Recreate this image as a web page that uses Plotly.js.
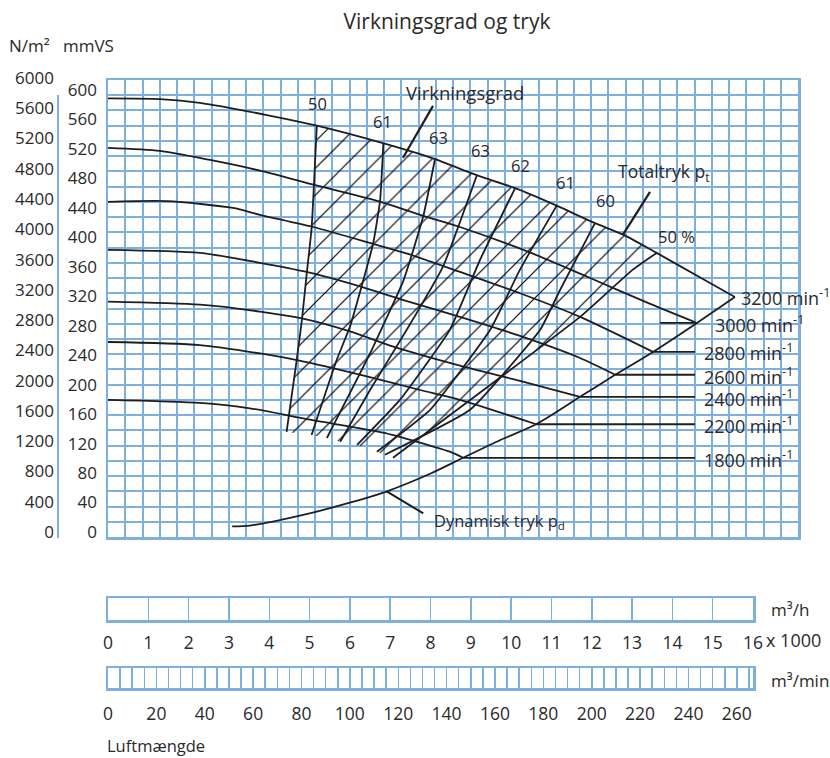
<!DOCTYPE html>
<html><head><meta charset="utf-8">
<script src="https://cdn.plot.ly/plotly-3.0.1.min.js"></script>
<style>body{margin:0;background:#fff}</style>
</head><body>
<div id="chart" style="width:830px;height:758px"></div>
<script>
// ---- data (flow in m3/h, pressure in mmVS) ----
const rpmNames = ['3200','3000','2800','2600','2400','2200','1800'];
const q3200=[0,1290,2280,3940,5180,6820,8060,9150,10100,11130,12080,12780,13610,14680,15550];
const p3200=[576,575,570,554,540,517,497,475,458,435,412,397,373,341,315];
const q3000=[0,1290,2530,3770,5140,6700,7860,8730,10540,11960,13450,14610];
const p3000=[511,507,495,481,462,441,421,407,372,340,306,281];
const q2800=[0,1460,3100,3770,5090,6570,7420,8730,10220,11710,13520];
const p2800=[440,441,432,423,407,385,372,348,320,289,243];
const q2600=[0,2280,3770,4930,6250,7330,8730,10220,11710,12580];
const p2600=[377,373,360,348,329,311,289,264,235,213];
const q2400=[0,2280,3770,4810,6000,7080,8730,10220,11710];
const p2400=[309,305,296,287,270,250,225,205,184];
const q2200=[0,2280,3770,4720,6420,7740,8730,10620];
const p2200=[256,252,241,232,211,193,180,148];
const q1800=[0,2280,3520,5010,6820,7670,8480,8810];
const p1800=[180,176,169,154,137,125,112,104];
const qDyn=[3080,3520,4760,6000,6920,7990,8810,9720,10620,11710,12580,13520,14610,15550];
const pDyn=[14,15,28,45,60,83,104,127,148,184,213,243,281,315];
// efficiency lines (top on 3200 curve -> bottom)
const effLabels=['50','61','63','63','62','61','60','50 %'];
const e1q=[5180,5050,4930,4810,4680,4430], e1p=[540,405,346,285,232,138];
const e2q=[6830,6750,6580,6290,6000,5670,5050], e2p=[516,442,386,329,276,232,134];
const e3q=[8110,7820,7330,6500,5430], e3p=[496,421,337,241,130];
const e4q=[9150,8310,7410,6500,5760], e4p=[475,355,272,193,125];
const e5q=[10100,9230,8480,7240,6180], e5p=[458,364,272,180,121];
const e6q=[11130,10220,9480,7990,6670], e6p=[435,351,272,167,112];
const e7q=[12080,11210,10720,8980,6870], e7p=[412,324,272,167,108];
const e8q=[13610,13020,11710,9720,7070], e8p=[373,351,289,209,104];
// axis tick labels
const flowHTicks=[0,1,2,3,4,5,6,7,8,9,10,11,12,13,14,15,16];
const flowMinTicks=[0,20,40,60,80,100,120,140,160,180,200,220,240,260];
const mmTicks=[0,40,80,120,160,200,240,280,320,360,400,440,480,520,560,600];
const nTicks=[0,400,800,1200,1600,2000,2400,2800,3200,3600,4000,4400,4800,5200,5600,6000];
const leaderEndQ=14560;

// ---- styling ----
const W=830,H=758;
const GRID='#7fafdf', INK='#1e1e1e', TXT='#2a2a2a';
const FONT='"Open Sans", "Noto Sans", sans-serif';

const curves=[[q3200,p3200],[q3000,p3000],[q2800,p2800],[q2600,p2600],[q2400,p2400],[q2200,p2200],[q1800,p1800]];
const effs=[[e1q,e1p],[e2q,e2p],[e3q,e3p],[e4q,e4p],[e5q,e5p],[e6q,e6p],[e7q,e7p],[e8q,e8p]];

const traces=[];
// hatch polygon
{
  const hx=[],hy=[];
  for(let i=e1q.length-1;i>=0;i--){hx.push(e1q[i]);hy.push(e1p[i]);}
  for(let i=0;i<q3200.length;i++){ if(q3200[i]>e1q[0] && q3200[i]<e8q[0]){hx.push(q3200[i]);hy.push(p3200[i]);} }
  for(let i=0;i<e8q.length;i++){hx.push(e8q[i]);hy.push(e8p[i]);}
  for(let k=6;k>=1;k--){const e=effs[k]; hx.push(e[0][e[0].length-1]); hy.push(e[1][e[1].length-1]);}
  hx.push(e1q[e1q.length-1]); hy.push(e1p[e1p.length-1]);
  traces.push({x:hx,y:hy,type:'scatter',mode:'lines',fill:'toself',line:{width:0,color:'rgba(0,0,0,0)'},
    fillcolor:'rgba(0,0,0,0)',
    fillpattern:{shape:'/',size:19,solidity:0.062,fgcolor:'#000',bgcolor:'rgba(0,0,0,0)'},hoverinfo:'skip'});
}
curves.forEach(c=>traces.push({x:c[0],y:c[1],type:'scatter',mode:'lines',line:{color:INK,width:1.8,shape:'spline',smoothing:0.7},hoverinfo:'skip'}));
traces.push({x:qDyn,y:pDyn,type:'scatter',mode:'lines',line:{color:INK,width:1.8,shape:'spline',smoothing:0.7},hoverinfo:'skip'});
// leaders
curves.forEach((c,i)=>{
  if(i===0) return;
  const qe=c[0][c[0].length-1], pe=c[1][c[1].length-1];
  const xs = i===1 ? [13690, qe] : [qe, leaderEndQ];
  traces.push({x:xs,y:[pe,pe],type:'scatter',mode:'lines',line:{color:INK,width:1.8},hoverinfo:'skip'});
});
effs.forEach(e=>traces.push({x:e[0],y:e[1],type:'scatter',mode:'lines',line:{color:INK,width:1.8,shape:'spline',smoothing:0.4},hoverinfo:'skip'}));
// helper traces for bar axes and label axes
traces.push({x:[null],y:[null],xaxis:'x2',yaxis:'y2',type:'scatter',hoverinfo:'skip'});
traces.push({x:[null],y:[null],xaxis:'x3',yaxis:'y3',type:'scatter',hoverinfo:'skip'});
traces.push({x:[null],y:[null],xaxis:'x4',yaxis:'y4',type:'scatter',hoverinfo:'skip'});
traces.push({x:[null],y:[null],xaxis:'x5',yaxis:'y5',type:'scatter',hoverinfo:'skip'});

const ann=[];
function f(s){return {size:s,color:TXT,family:FONT};}
function txt(x,y,t,opt){ann.push(Object.assign({x:x,y:y,text:t,showarrow:false,xref:'x',yref:'y',font:f(16)},opt||{}));}
const effLabelPos=[[5200,569],[6820,545],[8210,525],[9250,508],[10220,488],[11340,465],[12330,442],[14090,395]];
effLabels.forEach((t,i)=>txt(effLabelPos[i][0],effLabelPos[i][1],t,{font:f(16.5)}));
txt(8856,584,'Virkningsgrad',{font:f(18.5)});
txt(12600,479,'Totaltryk p<sub>t</sub>',{xanchor:'left',font:f(17.5)});
txt(8037,21,'Dynamisk tryk p<sub>d</sub>',{xanchor:'left',font:f(16.5)});
const rpmLabelPos=[[15660,315],[15008,279],[14735,243],[14735,212],[14735,183],[14735,147],[14735,103]];
rpmNames.forEach((r,i)=>txt(rpmLabelPos[i][0],rpmLabelPos[i][1],r+' min<sup>-1</sup>',{xanchor:'left',font:f(18)}));
// paper texts
function ptxt(px,py,t,opt){ann.push(Object.assign({x:px/W,y:1-py/H,xref:'paper',yref:'paper',text:t,showarrow:false,xanchor:'left',yanchor:'middle',font:f(17)},opt||{}));}
ptxt(7,45,'N/m²');
ptxt(61,45,'mmVS');
ptxt(769,609,'m³/h');
ptxt(769,680,'m³/min');
ptxt(764,640,'x 1000',{font:f(18)});
ptxt(105,745,'Luftmængde',{font:f(16.5)});

const shapes=[
  {type:'line',xref:'x',yref:'y',x0:8062,y0:566,x1:7318,y1:498,line:{color:INK,width:2.2}},
  {type:'line',xref:'x',yref:'y',x0:13445,y0:453,x1:12775,y1:397,line:{color:INK,width:2.2}},
  {type:'line',xref:'x',yref:'y',x0:7821,y0:31,x1:6913,y1:60,line:{color:INK,width:2}},
  {type:'line',xref:'paper',yref:'paper',x0:58/W,x1:58/W,y0:1-538/H,y1:1-95/H,line:{color:GRID,width:2}}
];

const baseAx={zeroline:false,fixedrange:true,linecolor:GRID,gridcolor:GRID};
const layout={
  width:W,height:H,margin:{l:0,r:0,t:0,b:0},paper_bgcolor:'#fff',plot_bgcolor:'rgba(0,0,0,0)',showlegend:false,
  font:{family:FONT,size:15,color:TXT},
  title:{text:'Virkningsgrad og tryk',x:447/W,xanchor:'center',y:1-22/H,yanchor:'middle',xref:'paper',yref:'paper',font:f(21)},
  xaxis:Object.assign({},baseAx,{domain:[108/W,798/W],range:[0,17116],tick0:0,dtick:427.9,showgrid:true,gridwidth:2,showticklabels:false,ticks:'',showline:true,mirror:true,linewidth:2.5,anchor:'y'}),
  yaxis:Object.assign({},baseAx,{domain:[1-537/H,1-80/H],range:[0,600],tick0:0,dtick:20,showgrid:true,gridwidth:2,showticklabels:false,ticks:'',showline:true,mirror:true,linewidth:2.5,anchor:'x'}),
  xaxis2:Object.assign({},baseAx,{domain:[108/W,753/W],range:[0,16],anchor:'y2',tickmode:'array',tickvals:flowHTicks,ticktext:flowHTicks.map(String),showgrid:true,gridwidth:1.5,showline:true,mirror:true,linewidth:2.5,ticks:'outside',ticklen:5,tickcolor:'rgba(0,0,0,0)',tickfont:f(17.5)}),
  yaxis2:Object.assign({},baseAx,{domain:[1-620/H,1-598/H],range:[0,1],anchor:'x2',showgrid:false,showticklabels:false,ticks:'',showline:true,mirror:true,linewidth:2.5}),
  xaxis3:Object.assign({},baseAx,{domain:[108/W,753/W],range:[0,266.667],anchor:'y3',tickmode:'array',tickvals:flowMinTicks,ticktext:flowMinTicks.map(String),showgrid:true,gridwidth:1.5,minor:{tick0:0,dtick:5,showgrid:true,gridcolor:GRID,gridwidth:1.5,ticks:''},showline:true,mirror:true,linewidth:2.5,ticks:'outside',ticklen:8,tickcolor:'rgba(0,0,0,0)',tickfont:f(17.5)}),
  yaxis3:Object.assign({},baseAx,{domain:[1-688/H,1-668/H],range:[0,1],anchor:'x3',showgrid:false,showticklabels:false,ticks:'',showline:true,mirror:true,linewidth:2.5}),
  xaxis4:{domain:[108/W,798/W],range:[0,1],anchor:'y4',visible:false,fixedrange:true},
  yaxis4:Object.assign({},baseAx,{domain:[1-532/H,1-90/H],range:[0,600],anchor:'free',position:97/W,tickmode:'array',tickvals:mmTicks,ticktext:mmTicks.map(String),showgrid:false,showline:false,ticks:'',tickfont:f(17)}),
  xaxis5:{domain:[108/W,798/W],range:[0,1],anchor:'y5',visible:false,fixedrange:true},
  yaxis5:Object.assign({},baseAx,{domain:[1-532/H,1-78/H],range:[0,6000],anchor:'free',position:54/W,tickmode:'array',tickvals:nTicks,ticktext:nTicks.map(String),showgrid:false,showline:false,ticks:'',tickfont:f(17)}),
  annotations:ann,shapes:shapes
};
Plotly.newPlot('chart',traces,layout,{staticPlot:true,displayModeBar:false});
</script>
</body></html>
